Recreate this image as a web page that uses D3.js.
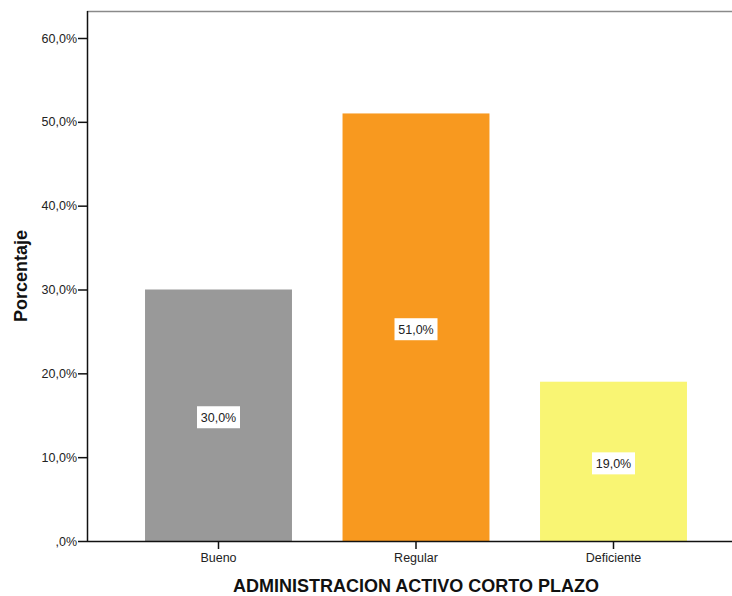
<!DOCTYPE html>
<html>
<head>
<meta charset="utf-8">
<script src="https://cdn.jsdelivr.net/npm/d3@7"></script>
<style>
  html, body { margin: 0; padding: 0; background: #fff; }
  svg { display: block; font-family: "Liberation Sans", Arial, sans-serif; }
</style>
</head>
<body>
<svg id="chart" width="732" height="596"></svg>
<script>
// Categories and their percentages
const categories = ["Bueno", "Regular", "Deficiente"];
const percentages = [30.0, 51.0, 19.0];
const barColors = ["#999999", "#F8991F", "#F9F573"];
const yTicks = [0, 10, 20, 30, 40, 50, 60];
const xTitle = "ADMINISTRACION ACTIVO CORTO PLAZO";
const yTitle = "Porcentaje";

const svg = d3.select("#chart");
const W = 732, H = 596;
const plotLeft = 87, plotTop = 11, plotBottom = 541;

const fmt = v => (v === 0 ? ",0%" : d3.format(".1f")(v).replace(".", ",") + "%");

const y = d3.scaleLinear().domain([0, 60]).range([plotBottom, 38]);
const x = d3.scaleBand()
  .domain(categories)
  .range([119.75, 712.25])
  .paddingInner(0.256)
  .paddingOuter(0.128);

// frame top line
svg.append("line")
  .attr("x1", plotLeft).attr("x2", W)
  .attr("y1", plotTop + 0.5).attr("y2", plotTop + 0.5)
  .attr("stroke", "#8a8a8a").attr("stroke-width", 1.5);

// bars
svg.append("g").selectAll("rect")
  .data(categories)
  .join("rect")
  .attr("x", d => x(d))
  .attr("width", x.bandwidth())
  .attr("y", (d, i) => y(percentages[i]))
  .attr("height", (d, i) => plotBottom - y(percentages[i]))
  .attr("fill", (d, i) => barColors[i]);

// value labels on white boxes
const lab = svg.append("g").selectAll("g")
  .data(categories)
  .join("g")
  .attr("transform", (d, i) => `translate(${x(d) + x.bandwidth() / 2},${(y(percentages[i]) + plotBottom) / 2 + 2})`);
lab.append("rect")
  .attr("x", -21.5).attr("y", -11)
  .attr("width", 43).attr("height", 22)
  .attr("fill", "#fff");
lab.append("text")
  .attr("text-anchor", "middle")
  .attr("dy", "0.35em")
  .attr("font-size", 12.5)
  .attr("fill", "#222")
  .text((d, i) => fmt(percentages[i]));

// y axis
const yAxis = svg.append("g")
  .attr("transform", `translate(${plotLeft},0)`)
  .call(d3.axisLeft(y).tickValues(yTicks).tickFormat(fmt).tickSize(9).tickSizeOuter(0));
yAxis.select(".domain").attr("stroke", "#111").attr("stroke-width", 1.5)
  .attr("d", `M0.5,${plotTop}V${plotBottom}`);
yAxis.selectAll(".tick line").attr("stroke", "#111").attr("stroke-width", 1.5);
yAxis.selectAll(".tick text").attr("font-size", 12.5).attr("fill", "#222")
  .attr("font-family", "Liberation Sans, Arial, sans-serif").attr("x", -10);

// x axis
const xAxis = svg.append("g")
  .attr("transform", `translate(0,${plotBottom})`)
  .call(d3.axisBottom(x).tickSize(8).tickSizeOuter(0));
xAxis.select(".domain").attr("stroke", "#111").attr("stroke-width", 1.5)
  .attr("d", `M${plotLeft},0.5H${W}`);
xAxis.selectAll(".tick line").attr("stroke", "#111").attr("stroke-width", 1.5);
xAxis.selectAll(".tick text").attr("font-size", 12.5).attr("fill", "#222")
  .attr("font-family", "Liberation Sans, Arial, sans-serif").attr("y", 12);

// axis titles
svg.append("text")
  .attr("x", 416).attr("y", 592)
  .attr("text-anchor", "middle")
  .attr("font-size", 18).attr("font-weight", "bold").attr("fill", "#111")
  .text(xTitle);
svg.append("text")
  .attr("transform", "translate(27,276) rotate(-90)")
  .attr("text-anchor", "middle")
  .attr("font-size", 18).attr("font-weight", "bold").attr("fill", "#111")
  .text(yTitle);
</script>
</body>
</html>
